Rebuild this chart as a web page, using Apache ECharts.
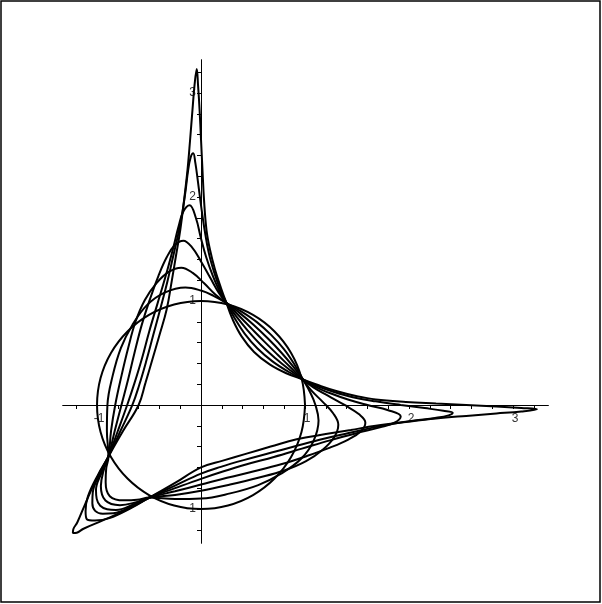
<!DOCTYPE html>
<html>
<head>
<meta charset="utf-8">
<script src="https://cdn.jsdelivr.net/npm/echarts@6/dist/echarts.min.js"></script>
<style>
  html, body { margin: 0; padding: 0; background: #fff; }
  #chart { width: 602px; height: 604px; }
</style>
</head>
<body>
<div id="chart"></div>
<script>
// tick positions and labels
const xTicks = [-1.2, -1, -0.8, -0.6, -0.4, -0.2, 0.2, 0.4, 0.6, 0.8, 1, 1.2, 1.4, 1.6, 1.8, 2, 2.2, 2.4, 2.6, 2.8, 3, 3.2];
const yTicks = [-1.2, -1, -0.8, -0.6, -0.4, -0.2, 0.2, 0.4, 0.6, 0.8, 1, 1.2, 1.4, 1.6, 1.8, 2, 2.2, 2.4, 2.6, 2.8, 3, 3.2];
const xLabels = [-1, 1, 2, 3];
const yLabels = [-1, 1, 2, 3];

// curves, flattest (circle) to sharpest
const curve0 = [
  [1, 0], [0.966, 0.259], [0.866, 0.5], [0.707, 0.707], [0.5, 0.866], [0.259, 0.966],
  [0, 1], [-0.259, 0.966], [-0.5, 0.866], [-0.707, 0.707], [-0.866, 0.5], [-0.966, 0.259],
  [-1, 0], [-0.966, -0.259], [-0.866, -0.5], [-0.707, -0.707], [-0.5, -0.866], [-0.259, -0.966],
  [0, -1], [0.259, -0.966], [0.5, -0.866], [0.707, -0.707], [0.866, -0.5], [0.966, -0.259], [1, 0]
];

const curve1 = [
  [0.245, 0.98], [0.12, 1.05], [0, 1.1], [-0.15, 1.13],
  [-0.35, 1.08], [-0.52, 0.96], [-0.66, 0.77], [-0.77, 0.55], [-0.85, 0.28], [-0.9, 0], [-0.905, -0.25], [-0.89, -0.495],
  [-0.912, -0.615], [-0.917, -0.743], [-0.877, -0.877], [-0.743, -0.917], [-0.615, -0.912], [-0.495, -0.89],
  [-0.25, -0.905], [0, -0.9], [0.28, -0.85], [0.55, -0.77], [0.77, -0.66], [0.96, -0.52], [1.08, -0.35], [1.13, -0.15],
  [1.1, 0], [1.05, 0.12], [0.98, 0.245],
  [0.898, 0.39], [0.797, 0.537], [0.674, 0.674], [0.537, 0.797], [0.39, 0.898], [0.245, 0.98]
];

const curve2 = [
  [0.245, 0.98], [0.14, 1.06], [0.03, 1.17], [-0.08, 1.27], [-0.19, 1.32],
  [-0.31, 1.28], [-0.43, 1.17], [-0.54, 1.01], [-0.63, 0.8], [-0.7, 0.55], [-0.765, 0.28], [-0.825, 0], [-0.865, -0.25], [-0.89, -0.495],
  [-0.937, -0.632], [-0.963, -0.78], [-0.919, -0.919], [-0.78, -0.963], [-0.632, -0.937], [-0.495, -0.89],
  [-0.25, -0.865], [0, -0.825], [0.28, -0.765], [0.55, -0.7], [0.8, -0.63], [1.01, -0.54], [1.17, -0.43], [1.28, -0.31], [1.32, -0.19],
  [1.27, -0.08], [1.17, 0.03], [1.06, 0.14], [0.98, 0.245],
  [0.883, 0.373], [0.769, 0.507], [0.641, 0.641], [0.507, 0.769], [0.373, 0.883], [0.245, 0.98]
];

const curve3 = [
  [0.245, 0.98], [0.17, 1.08], [0.09, 1.22], [0, 1.38], [-0.09, 1.52], [-0.17, 1.58],
  [-0.25, 1.54], [-0.33, 1.42], [-0.41, 1.24], [-0.49, 1.02], [-0.57, 0.77], [-0.64, 0.5], [-0.7, 0.25], [-0.765, 0], [-0.83, -0.25], [-0.89, -0.495],
  [-0.953, -0.643], [-1.01, -0.818], [-1.003, -0.903], [-0.969, -0.969], [-0.903, -1.003], [-0.818, -1.01], [-0.643, -0.953], [-0.495, -0.89],
  [-0.25, -0.83], [0, -0.765], [0.25, -0.7], [0.5, -0.64], [0.77, -0.57], [1.02, -0.49], [1.24, -0.41], [1.42, -0.33], [1.54, -0.25], [1.58, -0.17],
  [1.52, -0.09], [1.38, 0], [1.22, 0.09], [1.08, 0.17], [0.98, 0.245],
  [0.867, 0.356], [0.742, 0.478], [0.609, 0.609], [0.478, 0.742], [0.356, 0.867], [0.245, 0.98]
];

const curve4 = [
  [0.245, 0.98], [0.175, 1.1], [0.11, 1.25], [0.05, 1.42], [0, 1.6], [-0.05, 1.8], [-0.11, 1.92],
  [-0.17, 1.86], [-0.215, 1.72], [-0.27, 1.5], [-0.34, 1.24], [-0.42, 0.97], [-0.5, 0.7], [-0.57, 0.44], [-0.64, 0.21], [-0.71, 0], [-0.8, -0.25], [-0.89, -0.495],
  [-0.97, -0.654], [-1.041, -0.843], [-1.045, -0.945], [-1.018, -1.018], [-0.945, -1.045], [-0.843, -1.041], [-0.654, -0.97], [-0.495, -0.89],
  [-0.25, -0.8], [0, -0.71], [0.21, -0.64], [0.44, -0.57], [0.7, -0.5], [0.97, -0.42], [1.24, -0.34], [1.5, -0.27], [1.72, -0.215], [1.86, -0.17], [1.92, -0.11],
  [1.8, -0.05], [1.6, 0], [1.42, 0.05], [1.25, 0.11], [1.1, 0.175], [0.98, 0.245],
  [0.851, 0.339], [0.715, 0.449], [0.576, 0.576], [0.449, 0.715], [0.339, 0.851], [0.245, 0.98]
];

const curve5 = [
  [0.245, 0.98], [0.185, 1.11], [0.125, 1.28], [0.075, 1.46], [0.035, 1.68], [0, 1.92], [-0.03, 2.15], [-0.055, 2.33], [-0.075, 2.42],
  [-0.1, 2.38], [-0.125, 2.25], [-0.15, 2.05], [-0.18, 1.85], [-0.22, 1.64], [-0.27, 1.42], [-0.325, 1.18], [-0.39, 0.93], [-0.46, 0.67], [-0.53, 0.41], [-0.595, 0.19], [-0.66, 0], [-0.775, -0.25], [-0.89, -0.495],
  [-0.987, -0.665], [-1.088, -0.881], [-1.11, -1.02], [-1.098, -1.098], [-1.02, -1.11], [-0.881, -1.088], [-0.665, -0.987], [-0.495, -0.89],
  [-0.25, -0.775], [0, -0.66], [0.19, -0.595], [0.41, -0.53], [0.67, -0.46], [0.93, -0.39], [1.18, -0.325], [1.42, -0.27], [1.64, -0.22], [1.85, -0.18], [2.05, -0.15], [2.25, -0.125], [2.38, -0.1], [2.42, -0.075],
  [2.33, -0.055], [2.15, -0.03], [1.92, 0], [1.68, 0.035], [1.46, 0.075], [1.28, 0.125], [1.11, 0.185], [0.98, 0.245],
  [0.836, 0.322], [0.687, 0.419], [0.543, 0.543], [0.419, 0.687], [0.322, 0.836], [0.245, 0.98]
];

const curve6 = [
  [0.245, 0.98], [0.192, 1.125], [0.135, 1.3], [0.087, 1.49], [0.053, 1.68], [0.029, 1.97], [0.014, 2.26], [0, 2.55], [-0.014, 2.84], [-0.029, 3.08], [-0.041, 3.23],
  [-0.062, 3.08], [-0.082, 2.84], [-0.105, 2.55], [-0.13, 2.26], [-0.163, 1.97], [-0.2, 1.68], [-0.24, 1.44], [-0.28, 1.2], [-0.33, 0.92], [-0.4, 0.67], [-0.47, 0.43], [-0.535, 0.21], [-0.6, 0], [-0.75, -0.25], [-0.89, -0.495],
  [-1.01, -0.72], [-1.115, -0.955], [-1.19, -1.13], [-1.228, -1.195], [-1.232, -1.232], [-1.195, -1.228], [-1.13, -1.19], [-0.955, -1.115], [-0.72, -1.01], [-0.495, -0.89],
  [-0.25, -0.75], [0, -0.6], [0.21, -0.535], [0.43, -0.47], [0.67, -0.4], [0.92, -0.33], [1.2, -0.28], [1.44, -0.24], [1.68, -0.2], [1.97, -0.163], [2.26, -0.13], [2.55, -0.105], [2.84, -0.082], [3.08, -0.062], [3.23, -0.041],
  [3.08, -0.029], [2.84, -0.014], [2.55, 0], [2.26, 0.014], [1.97, 0.029], [1.68, 0.053], [1.49, 0.087], [1.3, 0.135], [1.125, 0.192], [0.98, 0.245],
  [0.82, 0.305], [0.66, 0.39], [0.51, 0.51], [0.39, 0.66], [0.305, 0.82], [0.245, 0.98]
];

const curves = [curve0, curve1, curve2, curve3, curve4, curve5, curve6];

const chart = echarts.init(document.getElementById('chart'));

const labelStyle = {
  fontFamily: 'Liberation Sans',
  fontSize: 12,
  color: '#333'
};

// axes sit at x=0 / y=0: shift them from the grid edge into the plot
const axisShift = -138.3;

chart.setOption({
  animation: false,
  backgroundColor: '#fff',
  grid: {
    left: 62.7,
    top: 59.7,
    width: 485.7,
    height: 483.6,
    outerBoundsMode: 'none'
  },
  xAxis: {
    type: 'value',
    min: -1.33,
    max: 3.34,
    offset: axisShift,
    axisLine: { onZero: false, lineStyle: { color: '#000', width: 1 } },
    axisTick: { show: true, customValues: xTicks, length: 4, lineStyle: { color: '#000', width: 1 } },
    axisLabel: Object.assign({ customValues: xLabels, margin: 8, padding: [0, 0, 0, 4] }, labelStyle),
    splitLine: { show: false }
  },
  yAxis: {
    type: 'value',
    min: -1.33,
    max: 3.32,
    offset: axisShift,
    axisLine: { onZero: false, lineStyle: { color: '#000', width: 1 } },
    axisTick: { show: true, customValues: yTicks, length: 4, lineStyle: { color: '#000', width: 1 } },
    axisLabel: Object.assign({ customValues: yLabels, margin: 5 }, labelStyle),
    splitLine: { show: false }
  },
  graphic: [{
    type: 'rect',
    shape: { x: 1, y: 1, width: 599, height: 601 },
    style: { fill: null, stroke: '#000', lineWidth: 1.5 },
    silent: true
  }],
  series: curves.map(function (c) {
    return {
      type: 'line',
      data: c,
      symbol: 'none',
      smooth: 0.4,
      clip: false,
      lineStyle: { color: '#000', width: 2 }
    };
  })
});
</script>
</body>
</html>
